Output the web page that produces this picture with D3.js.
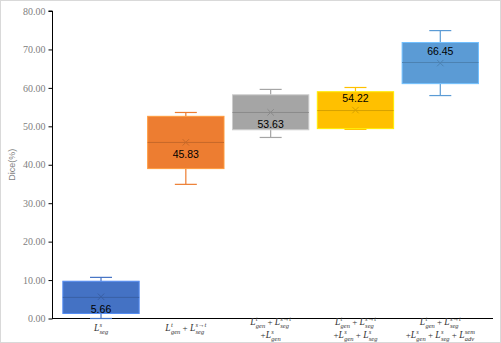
<!DOCTYPE html>
<html>
<head>
<meta charset="utf-8">
<script src="https://cdn.jsdelivr.net/npm/d3@7"></script>
<style>
  body { margin: 0; background: #fff; }
  svg { display: block; }
</style>
</head>
<body>
<div id="canvas"></div>
<script>
// values
const categories = ["A", "B", "C", "D", "E"];
const labelLines = [
  ["L^{s}_{seg}"],
  ["L^{t}_{gen} + L^{s→t}_{seg}"],
  ["L^{t}_{gen} + L^{s→t}_{seg}", "+L^{s}_{gen}"],
  ["L^{t}_{gen} + L^{s→t}_{seg}", "+L^{s}_{gen} + L^{s}_{seg}"],
  ["L^{t}_{gen} + L^{s→t}_{seg}", "+L^{s}_{gen} + L^{s}_{seg} + L^{sem}_{adv}"]
];
const whiskerLow = [0.0, 34.9, 47.1, 49.2, 58.0];
const q1 = [1.3, 39.0, 49.1, 49.4, 61.1];
const median = [5.5, 45.8, 53.6, 54.1, 66.6];
const q3 = [9.7, 52.6, 58.2, 59.0, 71.8];
const whiskerHigh = [10.7, 53.6, 59.6, 60.1, 74.9];
const means = [5.66, 45.83, 53.63, 54.22, 66.45];
const colors = ["#4472C4", "#ED7D31", "#A5A5A5", "#FFC000", "#5B9BD5"];
const yTicks = [0, 10, 20, 30, 40, 50, 60, 70, 80];
// label above (-1) or below (+1) the mean marker
const labelSide = [1, 1, 1, -1, -1];

const width = 501, height = 343;

const svg = d3.select("#canvas").append("svg")
  .attr("width", width).attr("height", height);

svg.append("rect")
  .attr("x", 0.5).attr("y", 0.5)
  .attr("width", width - 1).attr("height", height - 1)
  .attr("fill", "#fff").attr("stroke", "#d9d9d9");

const y = d3.scaleLinear().domain([0, 80]).range([318.5, 11]);
const x = d3.scaleBand().domain(categories).range([58.6, 482.7]).paddingInner(0.1).paddingOuter(0.05);

// axes
const yAxis = svg.append("g")
  .attr("transform", "translate(52.5,0)")
  .call(d3.axisLeft(y).tickValues(yTicks).tickFormat(d3.format(".2f")).tickSize(4));
yAxis.select(".domain").attr("stroke", "#000").attr("d", `M-4,${y(80)}H0V${y(0)}`);
yAxis.selectAll(".tick line").attr("stroke", "#000");
yAxis.selectAll(".tick text")
  .attr("x", -7)
  .attr("fill", "#808080")
  .style("font-family", "'Liberation Serif', serif")
  .style("font-size", "10px");

svg.append("line")
  .attr("x1", 52).attr("x2", 493)
  .attr("y1", y(0)).attr("y2", y(0))
  .attr("stroke", "#000");

svg.append("text")
  .attr("transform", `translate(15,${(y(0) + y(80)) / 2}) rotate(-90)`)
  .attr("text-anchor", "middle")
  .attr("fill", "#7f7f7f")
  .style("font-family", "'Liberation Sans', sans-serif")
  .style("font-size", "9px")
  .text("Dice(%)");

// boxes
const bw = x.bandwidth();
const capW = 22;
categories.forEach((c, i) => {
  const cx = x(c) + bw / 2;
  const col = colors[i];
  const dark = d3.color(col).darker(0.5);
  const g = svg.append("g");
  // whiskers
  g.append("line").attr("x1", cx).attr("x2", cx)
    .attr("y1", y(whiskerHigh[i])).attr("y2", y(q3[i])).attr("stroke", col).attr("stroke-width", 1.2);
  g.append("line").attr("x1", cx).attr("x2", cx)
    .attr("y1", y(q1[i])).attr("y2", y(whiskerLow[i])).attr("stroke", col).attr("stroke-width", 1.2);
  [whiskerHigh[i], whiskerLow[i]].forEach(v => {
    g.append("line").attr("x1", cx - capW / 2).attr("x2", cx + capW / 2)
      .attr("y1", y(v)).attr("y2", y(v)).attr("stroke", col).attr("stroke-width", 1.2);
  });
  g.append("rect")
    .attr("x", x(c)).attr("width", bw)
    .attr("y", y(q3[i])).attr("height", y(q1[i]) - y(q3[i]))
    .attr("fill", col)
    .attr("stroke", d3.color(col).brighter(0.6)).attr("stroke-width", 1);
  g.append("line").attr("x1", x(c)).attr("x2", x(c) + bw)
    .attr("y1", y(median[i])).attr("y2", y(median[i]))
    .attr("stroke", dark).attr("stroke-width", 1);
  // mean marker
  const my = y(means[i]), s = 3.2;
  g.append("path")
    .attr("d", `M${cx - s},${my - s}L${cx + s},${my + s}M${cx - s},${my + s}L${cx + s},${my - s}`)
    .attr("stroke", dark).attr("stroke-width", 1).attr("fill", "none");
  g.append("text")
    .attr("x", cx).attr("y", my + (labelSide[i] > 0 ? 16 : -8))
    .attr("text-anchor", "middle")
    .attr("fill", "#000")
    .style("font-family", "'Liberation Sans', sans-serif")
    .style("font-size", "10.5px")
    .text(d3.format(".2f")(means[i]));
});

// x labels with sub/superscripts
function drawMath(parent, str, cx, baseY) {
  const g = parent.append("g");
  let cur = 0;
  const re = /L\^\{([^}]*)\}_\{([^}]*)\}|([^L]+)/g;
  let m;
  const font = "'Liberation Serif', serif";
  while ((m = re.exec(str)) !== null) {
    if (m[3] !== undefined) {
      const t = g.append("text").attr("x", cur).attr("y", baseY)
        .style("font-family", font).style("font-size", "9px").attr("fill", "#333")
        .attr("xml:space", "preserve").text(m[3]);
      cur += t.node().getComputedTextLength();
    } else {
      const t = g.append("text").attr("x", cur).attr("y", baseY)
        .style("font-family", font).style("font-style", "italic").style("font-size", "9.5px")
        .attr("fill", "#333").text("L");
      cur += t.node().getComputedTextLength() + 0.3;
      const sup = g.append("text").attr("x", cur).attr("y", baseY - 4)
        .style("font-family", font).style("font-style", "italic").style("font-size", "6.5px")
        .attr("fill", "#333").text(m[1]);
      const sub = g.append("text").attr("x", cur).attr("y", baseY + 2.5)
        .style("font-family", font).style("font-style", "italic").style("font-size", "6.5px")
        .attr("fill", "#333").text(m[2]);
      cur += Math.max(sup.node().getComputedTextLength(), sub.node().getComputedTextLength());
    }
  }
  g.attr("transform", `translate(${cx - cur / 2},0)`);
}

categories.forEach((c, i) => {
  const cx = x(c) + bw / 2;
  const lines = labelLines[i];
  const ys = lines.length === 1 ? [331] : [325, 338];
  lines.forEach((ln, j) => drawMath(svg, ln, cx, ys[j]));
});
</script>
</body>
</html>
